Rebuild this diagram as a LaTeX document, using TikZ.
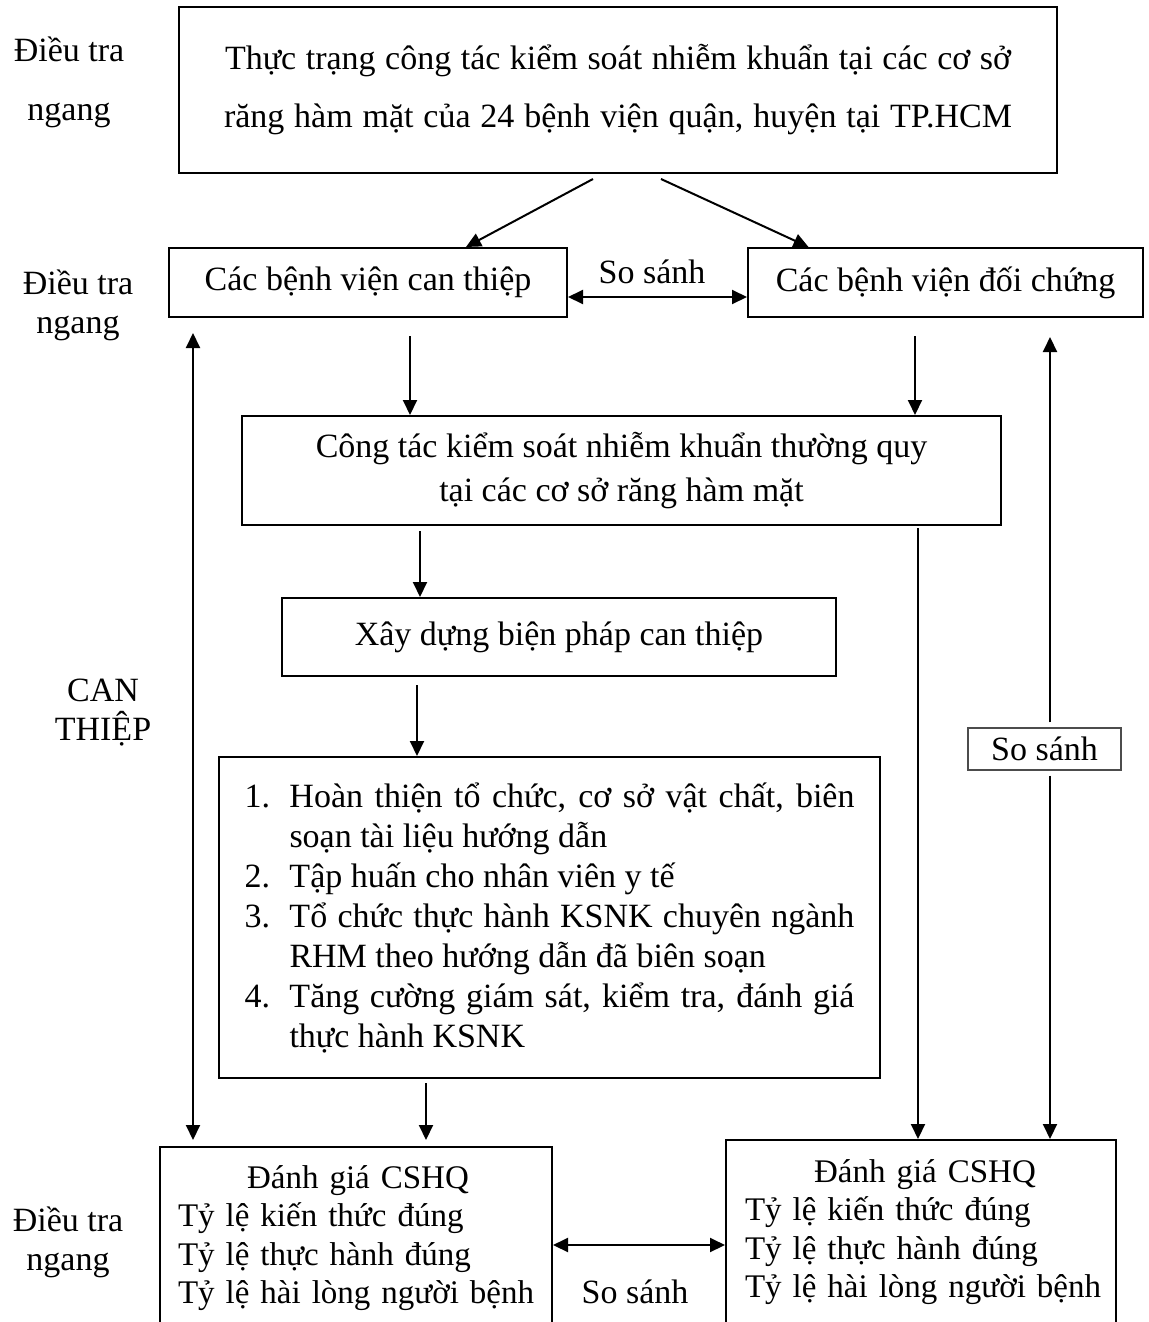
\documentclass[tikz,border=0pt]{standalone}
\usepackage{fontspec}
\setmainfont{Liberation Serif}
\usetikzlibrary{arrows.meta, positioning, calc}

\begin{document}
\begin{tikzpicture}[
    x=0.5pt, y=-0.5pt,
    box/.style={rectangle, draw, line width=1pt, inner sep=0pt, align=center, font=\fontsize{17}{20}\selectfont},
    lbl/.style={align=center, inner sep=0pt, font=\fontsize{17}{19.5}\selectfont},
    arr/.style={-{Triangle[length=7.5pt, width=7pt]}, line width=1pt},
    darr/.style={{Triangle[length=7.5pt, width=7pt]}-{Triangle[length=7.5pt, width=7pt]}, line width=1pt}
]
\useasboundingbox (0,0) rectangle (1149,1322);
\clip (0,0) rectangle (1149,1322);

% nhan ben trai
\node[lbl, anchor=base, font=\fontsize{17}{29}\selectfont] (dt1) at (69,120) {Điều tra\\ngang};
\node[lbl, anchor=base] (dt2) at (78,333) {Điều tra\\ngang};
\node[lbl, anchor=base] (canthiep) at (103,740) {CAN\\THIỆP};
\node[lbl, anchor=base] (dt4) at (68,1270) {Điều tra\\ngang};

% cac khoi
\node[box, minimum width=439pt, minimum height=83pt, font=\fontsize{17}{29}\selectfont] (ttkt) at (618,90)
    {\makebox[393pt][s]{Thực trạng công tác kiểm soát nhiễm khuẩn tại các cơ sở}\\
     \makebox[394pt][s]{răng hàm mặt của 24 bệnh viện quận, huyện tại TP.HCM}\\[-25pt]};
\node[box, minimum width=199pt, minimum height=34.5pt] (bvct) at (368,282.5) {Các bệnh viện can thiệp};
\node[box, minimum width=197.5pt, minimum height=34.5pt] (bvdc) at (945.5,282.5) {Các bệnh viện đối chứng};
\node[lbl] (ss1) at (652,272) {So sánh};

\node[box, minimum width=379.5pt, minimum height=54.5pt, font=\fontsize{17}{22}\selectfont] (rtn) at (621.5,470.5)
    {Công tác kiểm soát nhiễm khuẩn thường quy\\tại các cơ sở răng hàm mặt};
\node[box, minimum width=277pt, minimum height=39pt] (xd) at (559,637) {Xây dựng biện pháp can thiệp};

\node[box, minimum width=330.5pt, minimum height=160.5pt, text width=305pt, align=justify] (list) at (549.5,917.5)
    {\hangindent=22.5pt\hangafter=1\noindent\makebox[22.5pt][l]{1.}Hoàn thiện tổ chức, cơ sở vật chất, biên soạn tài liệu hướng dẫn\par
     \hangindent=22.5pt\hangafter=1\noindent\makebox[22.5pt][l]{2.}Tập huấn cho nhân viên y tế\par
     \hangindent=22.5pt\hangafter=1\noindent\makebox[22.5pt][l]{3.}Tổ chức thực hành KSNK chuyên ngành RHM theo hướng dẫn đã biên soạn\par
     \hangindent=22.5pt\hangafter=1\noindent\makebox[22.5pt][l]{4.}Tăng cường giám sát, kiểm tra, đánh giá thực hành KSNK\par};

\node[box, minimum width=196pt, minimum height=120pt, anchor=north] (bl) at (356,1146) {};
\node[lbl, anchor=base, text width=180pt, align=left, font=\fontsize{16.5}{19.3}\selectfont] (bltxt) at (358,1188)
    {\centering Đánh giá CSHQ\par\raggedright Tỷ lệ kiến thức đúng\\Tỷ lệ thực hành đúng\\Tỷ lệ hài lòng người bệnh};
\node[box, minimum width=195pt, minimum height=120pt, anchor=north] (br) at (921,1139) {};
\node[lbl, anchor=base, text width=180pt, align=left, font=\fontsize{16.5}{19.3}\selectfont] (brtxt) at (925,1182)
    {\centering Đánh giá CSHQ\par\raggedright Tỷ lệ kiến thức đúng\\Tỷ lệ thực hành đúng\\Tỷ lệ hài lòng người bệnh};
\node[lbl] (ss2) at (635,1292) {So sánh};
\node[box, draw=black!70, line width=0.7pt, minimum width=76.5pt, minimum height=21pt] (ss3) at (1044.5,749) {So sánh};

% mui ten
\draw[arr] ($(ttkt.south)+(-25,5)$) -- ($(bvct.north)+(98,0)$);
\draw[arr] ($(ttkt.south)+(43,5)$) -- ($(bvdc.north)+(-137,0)$);
\draw[darr] ($(bvct.east)+(0,14.5)$) -- ($(bvdc.west)+(0,14.5)$);
\draw[arr] ($(bvct.south)+(42,18)$) coordinate (p1) -- (p1 |- rtn.north);
\draw[arr] ($(bvdc.south)+(-30.5,18)$) coordinate (p2) -- (p2 |- rtn.north);
\draw[arr] ($(rtn.south)+(-201.5,5)$) coordinate (p3) -- (p3 |- xd.north);
\draw[arr] ($(xd.south)+(-142,8)$) coordinate (p4) -- (p4 |- list.north);
\draw[arr] ($(list.south)+(-123.5,4)$) coordinate (p5) -- ($(p5 |- bl.north)+(0,-6)$);
\draw[darr] ($(bvct.south west)+(25,15)$) coordinate (p6) -- ($(p6 |- bl.north)+(0,-6)$);
\draw[arr] ($(rtn.south)+(296.5,2)$) coordinate (p7) -- (p7 |- br.north);
\draw[arr] ($(ss3.north)+(5.5,-5)$) coordinate (p8) -- ($(p8 |- bvdc.south)+(0,19)$);
\draw[arr] ($(ss3.south)+(5.5,5)$) coordinate (p9) -- (p9 |- br.north);
\draw[darr] ($(bl.north east)+(0,99)$) -- ($(br.north west)+(0,106)$);
\end{tikzpicture}
\end{document}
